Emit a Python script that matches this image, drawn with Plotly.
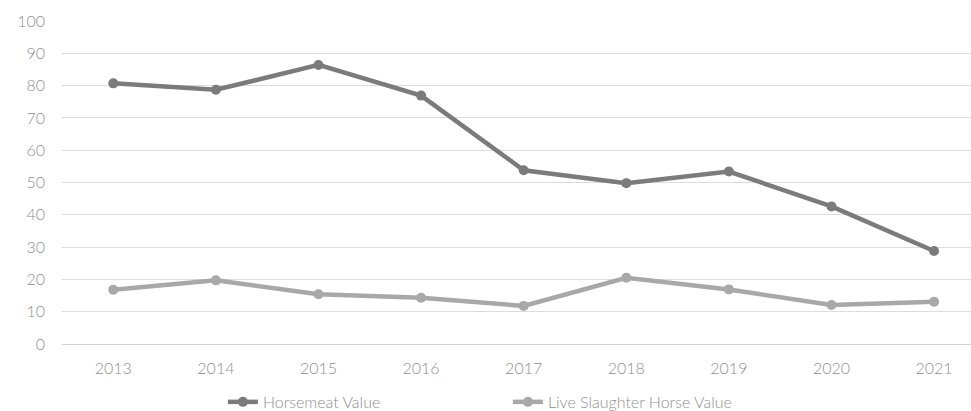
import plotly.graph_objects as go

years = [2013, 2014, 2015, 2016, 2017, 2018, 2019, 2020, 2021]
horsemeat_value = [80.7, 78.7, 86.4, 76.9, 53.8, 49.8, 53.4, 42.6, 28.8]
live_slaughter_value = [16.8, 19.7, 15.4, 14.3, 11.8, 20.5, 16.9, 12.1, 13.1]
y_ticks = [0, 10, 20, 30, 40, 50, 60, 70, 80, 90, 100]

font_family = "Lato, Carlito, 'Open Sans', sans-serif"
text_grey = "#8f8f8f"

fig = go.Figure()
fig.add_trace(go.Scatter(
    x=years, y=horsemeat_value, name="Horsemeat Value",
    mode="lines+markers",
    line=dict(color="#7b7b7b", width=4.5),
    marker=dict(color="#7b7b7b", size=10),
))
fig.add_trace(go.Scatter(
    x=years, y=live_slaughter_value, name="Live Slaughter Horse Value",
    mode="lines+markers",
    line=dict(color="#a8a8a8", width=4.5),
    marker=dict(color="#a8a8a8", size=10),
))

fig.update_layout(
    width=971, height=411,
    margin=dict(l=62, r=0, t=21, b=67, autoexpand=False),
    paper_bgcolor="white", plot_bgcolor="white",
    font=dict(family=font_family, size=16, color=text_grey, weight=300),
    showlegend=True,
    legend=dict(
        orientation="h", x=0.177, xanchor="left",
        yref="container", y=0.022, yanchor="middle",
        font=dict(size=16, color=text_grey, weight=300),
        itemwidth=30, tracegroupgap=0,
        entrywidth=240,
    ),
    xaxis=dict(
        range=[2012.5, 2021.36], automargin=False,
        tickvals=years, ticktext=[str(y) for y in years],
        showgrid=False, zeroline=False, showline=False,
        ticks="", ticklabelstandoff=13,
        ticklabeloverflow="allow",
        tickfont=dict(size=16, color=text_grey, weight=300),
    ),
    yaxis=dict(
        range=[0, 100], tickvals=y_ticks, automargin=False,
        showgrid=True, gridcolor="#dcdcdc", gridwidth=1,
        zeroline=True, zerolinecolor="#d4d4d4", zerolinewidth=1,
        showline=False, ticks="", ticklabelstandoff=16,
        tickfont=dict(size=16, color=text_grey, weight=300),
    ),
)

fig.write_html("out.html")
